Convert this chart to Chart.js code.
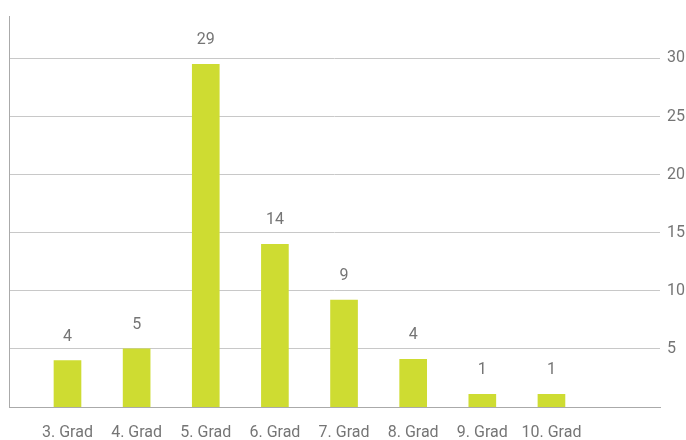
<!DOCTYPE html>
<html lang="de">
<head>
    <meta charset="UTF-8">
    <title>Grad Verteilung</title>
    <script src="https://cdn.jsdelivr.net/npm/chart.js"></script>
    <style>
        body {
            margin: 0;
            background-color: #ffffff;
            font-family: Roboto, Arial, sans-serif;
        }
        .chart-container {
            width: 686px;
            height: 440px;
        }
    </style>
</head>
<body>

<div class="chart-container">
    <canvas id="gradChart"></canvas>
</div>

<script>
    // Kategorien und Werte
    const categories = ['3. Grad', '4. Grad', '5. Grad', '6. Grad', '7. Grad', '8. Grad', '9. Grad', '10. Grad'];
    const valueLabels = [4, 5, 29, 14, 9, 4, 1, 1];
    // Balkenhöhen wie im Bild gemessen (leicht über den gerundeten Beschriftungen)
    const barHeights = [4, 5, 29.5, 14, 9.2, 4.1, 1.1, 1.1];
    const yTicks = [5, 10, 15, 20, 25, 30];

    const textColor = '#757575';
    const barColor = '#cedc32';

    const valueLabelPlugin = {
        id: 'valueLabels',
        afterDatasetsDraw(chart) {
            const ctx = chart.ctx;
            const meta = chart.getDatasetMeta(0);
            ctx.save();
            ctx.font = '16px Roboto';
            ctx.fillStyle = textColor;
            ctx.textAlign = 'center';
            ctx.textBaseline = 'middle';
            meta.data.forEach((bar, i) => {
                ctx.fillText(String(valueLabels[i]), bar.x, bar.y - 24);
            });
            ctx.restore();
        }
    };

    const ctx = document.getElementById('gradChart').getContext('2d');
    new Chart(ctx, {
        type: 'bar',
        data: {
            datasets: [{
                data: barHeights.map((v, i) => ({ x: i, y: v })),
                backgroundColor: barColor,
                borderWidth: 0,
                barThickness: 27,
                yAxisID: 'y'
            }]
        },
        options: {
            responsive: true,
            maintainAspectRatio: false,
            animation: false,
            layout: {
                padding: { top: 13, left: 0, right: 0, bottom: 0 }
            },
            plugins: {
                legend: { display: false },
                tooltip: { enabled: false }
            },
            scales: {
                x: {
                    type: 'linear',
                    position: 'bottom',
                    offset: false,
                    min: -0.846,
                    max: 8.57,
                    grid: { display: false, drawTicks: false, offset: false },
                    border: { display: true, color: '#aaaaaa', width: 1 },
                    afterBuildTicks: scale => {
                        scale.ticks = categories.map((c, i) => ({ value: i }));
                    },
                    afterFit: scale => { scale.height = 33; },
                    ticks: {
                        autoSkip: false,
                        maxRotation: 0,
                        padding: 16,
                        color: textColor,
                        font: { family: 'Roboto', size: 16 },
                        callback: v => categories[v]
                    }
                },
                y: {
                    position: 'right',
                    min: 0,
                    max: 33.6,
                    grid: { color: '#c8c8c8', drawTicks: false },
                    border: { display: false },
                    afterBuildTicks: scale => {
                        scale.ticks = yTicks.map(v => ({ value: v }));
                    },
                    afterFit: scale => { scale.width = 26; },
                    ticks: {
                        padding: 7,
                        color: textColor,
                        font: { family: 'Roboto', size: 16 }
                    }
                },
                yLeft: {
                    position: 'left',
                    min: 0,
                    max: 33.6,
                    grid: { display: false, drawTicks: false },
                    border: { display: true, color: '#aaaaaa', width: 1 },
                    ticks: { display: false },
                    afterFit: scale => { scale.width = 9; }
                }
            }
        },
        plugins: [valueLabelPlugin]
    });
</script>

</body>
</html>
